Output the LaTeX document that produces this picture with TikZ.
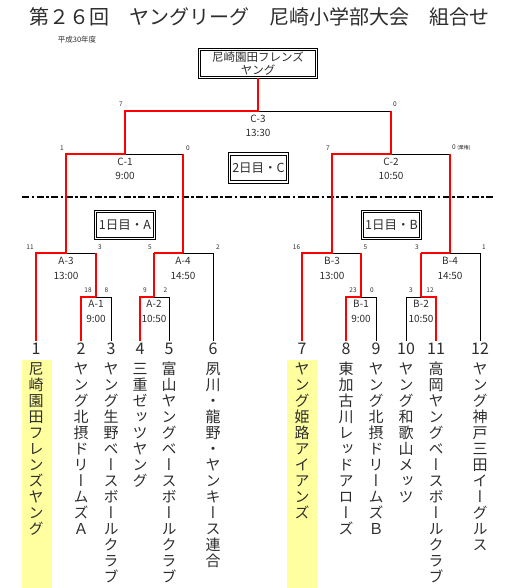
\documentclass[tikz,border=0pt]{standalone}
\usepackage{fontspec}
\setmainfont{Noto Sans CJK JP}
\newfontfamily\vjp[RawFeature=+vert]{Noto Sans CJK JP}
\definecolor{hlyellow}{RGB}{255,255,160}
\definecolor{txtgray}{RGB}{45,45,45}
\makeatletter
\newcommand\vtxt[1]{\vbox{\baselineskip=16pt\lineskiplimit=-\maxdimen\lineskip=0pt\@tfor\vch:=#1\do{\hbox to 16pt{\hss\vch\hss\vrule height 13pt depth 3pt width 0pt}}}}
\makeatother
\begin{document}
\begin{tikzpicture}[x=1pt,y=-1pt,
  bk/.style={draw=black, line width=0.9pt, line cap=rect},
  rthick/.style={draw=red, line width=2.6pt, line join=miter},
  rthin/.style={draw=red, line width=1.5pt},
  score/.style={font=\fontsize{6.5}{7}\selectfont, text=txtgray, inner sep=0pt},
  match/.style={font=\fontsize{10}{11}\selectfont, text=txtgray, inner sep=0pt},
  tnum/.style={font=\fontsize{16}{17}\selectfont, text=txtgray, inner sep=0pt},
  tname/.style={font=\vjp\fontsize{15}{16}\selectfont, text=txtgray, inner sep=0pt, anchor=north},
  dbox/.style={draw=black, double, double distance=1.3pt, line width=1pt, inner sep=0pt},
  hl/.style={fill=hlyellow},
  sepline/.style={draw=black, line width=2.6pt, dash pattern=on 7pt off 2.5pt on 2.5pt off 2.5pt}]
\useasboundingbox (0,0) rectangle (506,588);

% highlights
\fill[hl] (22,360) rectangle (52,588);
\fill[hl] (287,360) rectangle (318,588);

% title
\node[font=\fontsize{20}{22}\selectfont, text=txtgray] (title) at (259,17) {第２６回　ヤングリーグ　尼崎小学部大会　組合せ};
\node[font=\fontsize{7.5}{8}\selectfont, text=txtgray] (year) at (77,40) {平成30年度};

% champion box
\node[dbox, minimum width=117pt, minimum height=28pt, align=center, font=\fontsize{11.5}{12.5}\selectfont, text=txtgray] (champ) at (258,63.5) {尼崎園田フレンズ\\ヤング};

% day boxes
\node[dbox, minimum width=58pt, minimum height=28pt, font=\fontsize{12.5}{14}\selectfont, text=txtgray] (day2) at (258.5,168) {2日目・C};
\node[dbox, minimum width=59pt, minimum height=27.5pt, font=\fontsize{12.5}{14}\selectfont, text=txtgray] (day1a) at (125,225) {1日目・A};
\node[dbox, minimum width=58pt, minimum height=27.5pt, font=\fontsize{12.5}{14}\selectfont, text=txtgray] (day1b) at (391.5,225) {1日目・B};

% separator
\coordinate (sepL) at (22,197);
\coordinate (sepR) at (493,197);
\draw[sepline] (sepL) -- (sepR);

% bracket coordinates
\coordinate (C3) at (258,111);
\coordinate (C3L) at (125,111); \coordinate (C3R) at (391,111);
\coordinate (C1L) at (66,154); \coordinate (C1M) at (125,154); \coordinate (C1R) at (183,154);
\coordinate (C2L) at (332,154); \coordinate (C2M) at (391,154); \coordinate (C2R) at (450,154);
\coordinate (A3L) at (36,253); \coordinate (A3M) at (66,253); \coordinate (A3R) at (96,253);
\coordinate (A4L) at (154,253); \coordinate (A4M) at (183,253); \coordinate (A4R) at (213,253);
\coordinate (B3L) at (302,253); \coordinate (B3M) at (332,253); \coordinate (B3R) at (361,253);
\coordinate (B4L) at (421,253); \coordinate (B4M) at (450,253); \coordinate (B4R) at (480,253);
\coordinate (A1L) at (81,297); \coordinate (A1M) at (96,297); \coordinate (A1R) at (111,297);
\coordinate (A2L) at (140,297); \coordinate (A2M) at (154,297); \coordinate (A2R) at (169,297);
\coordinate (B1L) at (346,297); \coordinate (B1M) at (361,297); \coordinate (B1R) at (376,297);
\coordinate (B2L) at (406,297); \coordinate (B2M) at (421,297); \coordinate (B2R) at (436,297);

% team numbers
\node[tnum] (n1) at (36,349) {1};
\node[tnum] (n2) at (81,349) {2};
\node[tnum] (n3) at (111,349) {3};
\node[tnum] (n4) at (140,349) {4};
\node[tnum] (n5) at (169,349) {5};
\node[tnum] (n6) at (213,349) {6};
\node[tnum] (n7) at (302,349) {7};
\node[tnum] (n8) at (346,349) {8};
\node[tnum] (n9) at (376,349) {9};
\node[tnum] (n10) at (406,349) {10};
\node[tnum] (n11) at (436,349) {11};
\node[tnum] (n12) at (480,349) {12};

% team names
\node[tname] (t1) at (36,361) {\vtxt{尼崎園田フレンズヤング}};
\node[tname] (t2) at (81,361) {\vtxt{ヤング北摂ドリームズＡ}};
\node[tname] (t3) at (111,361) {\vtxt{ヤング生野ベースボールクラブ}};
\node[tname] (t4) at (140,361) {\vtxt{三重ゼッツヤング}};
\node[tname] (t5) at (169,361) {\vtxt{富山ヤングベースボールクラブ}};
\node[tname] (t6) at (213,361) {\vtxt{夙川・龍野・ヤンキース連合}};
\node[tname] (t7) at (302,361) {\vtxt{ヤング姫路アイアンズ}};
\node[tname] (t8) at (346,361) {\vtxt{東加古川レッドアローズ}};
\node[tname] (t9) at (376,361) {\vtxt{ヤング北摂ドリームズＢ}};
\node[tname] (t10) at (406,361) {\vtxt{ヤング和歌山メッツ}};
\node[tname] (t11) at (436,361) {\vtxt{高岡ヤングベースボールクラブ}};
\node[tname] (t12) at (480,361) {\vtxt{ヤング神戸三田イーグルス}};

% black bracket lines
\draw[bk] (C3L) -- (C3R);
\draw[bk] (C1L) -- (C1R);
\draw[bk] (C2L) -- (C2R);
\draw[bk] (A3L) -- (A3R);
\draw[bk] (A4L) -- (A4R);
\draw[bk] (B3L) -- (B3R);
\draw[bk] (B4L) -- (B4R);
\draw[bk] (A1L) -- (A1R);
\draw[bk] (A2L) -- (A2R);
\draw[bk] (B1L) -- (B1R);
\draw[bk] (B2L) -- (B2R);
\draw[bk, shorten <=2pt] (n3.north) -- (A1R);
\draw[bk, shorten <=2pt] (n5.north) -- (A2R);
\draw[bk, shorten <=2pt] (n6.north) -- (A4R);
\draw[bk, shorten <=2pt] (n9.north) -- (B1R);
\draw[bk, shorten <=2pt] (n10.north) -- (B2L);
\draw[bk, shorten <=2pt] (n12.north) -- (B4R);

% red winner paths
\draw[rthin] (A1M) -- (A3R);
\draw[rthin] (A2M) -- (A4L);
\draw[rthin] (A4M) -- (C1R);
\draw[rthin] (B1M) -- (B3R);
\draw[rthin] (B2M) -- (B4L);
\draw[rthin] (B4M) -- (C2R);
\draw[rthick, shorten <=2pt] (n1.north) -- (A3L) -- (A3M) -- (C1L) -- (C1M) -- (C3L) -- (C3) -- (champ.south);
\draw[rthick, shorten <=2pt] (n2.north) -- (A1L) -- (A1M);
\draw[rthick, shorten <=2pt] (n4.north) -- (A2L) -- (A2M);
\draw[rthick] (A4L) -- (A4M);
\draw[rthick, shorten <=2pt] (n7.north) -- (B3L) -- (B3M) -- (C2L) -- (C2M) -- (C3R);
\draw[rthick, shorten <=2pt] (n8.north) -- (B1L) -- (B1M);
\draw[rthick, shorten <=2pt] (n11.north) -- (B2R) -- (B2M);
\draw[rthick] (B4L) -- (B4M);

% match labels
\node[match] (mC3a) at (258,118.5) {C-3};  \node[match] (mC3b) at (258,133) {13:30};
\node[match] (mC1a) at (125,161.5) {C-1};  \node[match] (mC1b) at (125,175.5) {9:00};
\node[match] (mC2a) at (391,161.5) {C-2};  \node[match] (mC2b) at (391,175.5) {10:50};
\node[match] (mA3a) at (66,261) {A-3};     \node[match] (mA3b) at (66,276) {13:00};
\node[match] (mA4a) at (183,261) {A-4};    \node[match] (mA4b) at (183,276) {14:50};
\node[match] (mB3a) at (332,261) {B-3};    \node[match] (mB3b) at (332,276) {13:00};
\node[match] (mB4a) at (450,261) {B-4};    \node[match] (mB4b) at (450,276) {14:50};
\node[match] (mA1a) at (96,304) {A-1};     \node[match] (mA1b) at (96,318.5) {9:00};
\node[match] (mA2a) at (154,304) {A-2};    \node[match] (mA2b) at (154,318.5) {10:50};
\node[match] (mB1a) at (361,304) {B-1};    \node[match] (mB1b) at (361,318.5) {9:00};
\node[match] (mB2a) at (421,304) {B-2};    \node[match] (mB2b) at (421,318.5) {10:50};

% scores
\node[score] (sC3a) at (121,104.5) {7};
\node[score] (sC3b) at (395,104.5) {0};
\node[score] (sC1a) at (62,148) {1};
\node[score] (sC1b) at (188,148) {0};
\node[score] (sC2a) at (328,148) {7};
\node[score, anchor=west] (sC2b) at (452,148) {0 {\fontsize{5}{6}\selectfont(棄権)}};
\node[score] (sA3a) at (30,247.5) {11};
\node[score] (sA3b) at (100,247.5) {3};
\node[score] (sA4a) at (150,247.5) {5};
\node[score] (sA4b) at (218,247.5) {2};
\node[score] (sB3a) at (296.5,247.5) {16};
\node[score] (sB3b) at (365.5,247.5) {5};
\node[score] (sB4a) at (417,247.5) {3};
\node[score] (sB4b) at (484,247.5) {1};
\node[score] (sA1a) at (88,290.5) {18};
\node[score] (sA1b) at (106.5,290.5) {8};
\node[score] (sA2a) at (145,290.5) {9};
\node[score] (sA2b) at (165.5,290.5) {2};
\node[score] (sB1a) at (353,290.5) {23};
\node[score] (sB1b) at (372,290.5) {0};
\node[score] (sB2a) at (411,290.5) {3};
\node[score] (sB2b) at (430,290.5) {12};
\end{tikzpicture}
\end{document}
